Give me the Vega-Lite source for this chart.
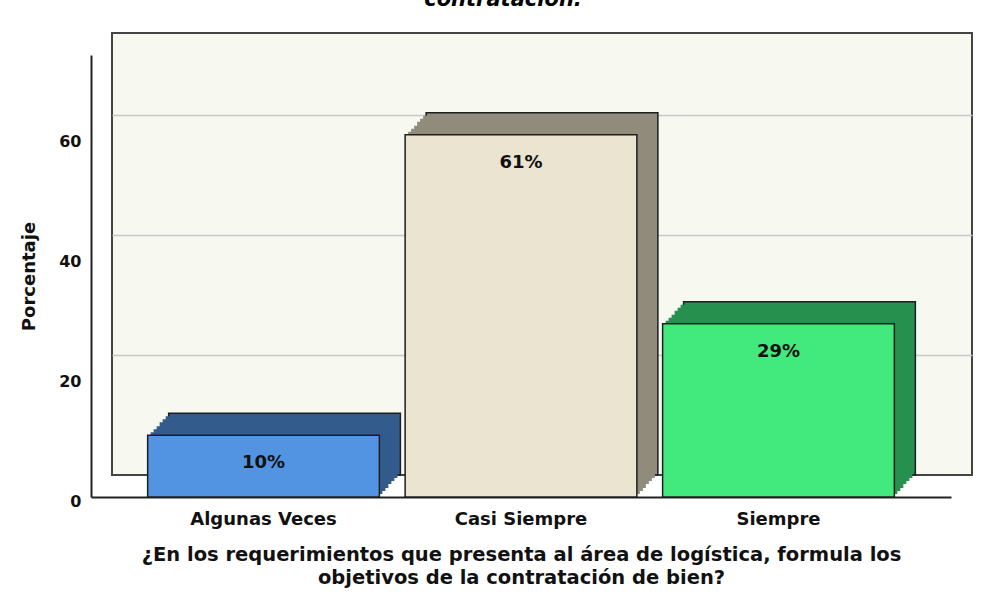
{
  "$schema": "https://vega.github.io/schema/vega-lite/v6.json",
  "width": 860,
  "height": 442,
  "autosize": "none",
  "padding": {"left": 112, "top": 33, "right": 13, "bottom": 122},
  "background": "white",
  "title": {
    "text": "contratación.",
    "font": "DejaVu Sans",
    "fontSize": 21,
    "fontWeight": "bold",
    "fontStyle": "italic",
    "color": "black",
    "baseline": "alphabetic",
    "anchor": "middle",
    "offset": 6,
    "dx": -39
  },
  "config": {
    "view": {"fill": "#f7f9f1", "stroke": "#444444", "strokeWidth": 2},
    "font": "DejaVu Sans"
  },
  "data": {
    "values": [
      {"Respuesta": "Algunas Veces", "Porcentaje": 10.3, "Etiqueta": "10%"},
      {"Respuesta": "Casi Siempre", "Porcentaje": 60.4, "Etiqueta": "61%"},
      {"Respuesta": "Siempre", "Porcentaje": 28.9, "Etiqueta": "29%"}
    ]
  },
  "encoding": {
    "x": {
      "field": "Respuesta",
      "type": "nominal",
      "sort": null,
      "scale": {"paddingInner": 0.1, "paddingOuter": 0.22},
      "axis": {
        "orient": "bottom",
        "offset": 22,
        "position": -21,
        "domain": true,
        "domainColor": "#222222",
        "domainWidth": 2,
        "ticks": false,
        "tickSize": 0,
        "grid": false,
        "labelAngle": 0,
        "labelPadding": 13,
        "labelFont": "DejaVu Sans",
        "labelFontSize": 18,
        "labelFontWeight": "bold",
        "labelColor": "#111111",
        "title": ["¿En los requerimientos que presenta al área de logística, formula los", "objetivos de la contratación de bien?"],
        "titleFont": "DejaVu Sans",
        "titleFontSize": 19.5,
        "titleFontWeight": "bold",
        "titleColor": "#111111",
        "titleLineHeight": 23,
        "titlePadding": 17
      }
    },
    "y": {
      "field": "Porcentaje",
      "type": "quantitative",
      "scale": {"domain": [0, 73.7], "nice": false, "zero": true}
    },
    "color": {
      "field": "Respuesta",
      "type": "nominal",
      "sort": null,
      "scale": {"domain": ["Algunas Veces", "Casi Siempre", "Siempre"], "range": ["#335c8d", "#918c7c", "#26904f"]},
      "legend": null
    }
  },
  "layer": [
    {
      "mark": {"type": "bar", "stroke": "#1e1e1e", "strokeWidth": 1.5},
      "encoding": {
        "y": {
          "field": "Porcentaje",
          "type": "quantitative",
          "axis": {
            "orient": "left",
            "grid": true,
            "gridColor": "#c8c8c8",
            "gridWidth": 1.5,
            "labels": false,
            "domain": false,
            "ticks": false,
            "values": [20, 40, 60],
            "title": null
          }
        }
      }
    },
    {"mark": {"type": "bar", "xOffset": -3, "yOffset": 3}, "encoding": {"y": {"field": "Porcentaje", "type": "quantitative", "axis": null}}},
    {"mark": {"type": "bar", "xOffset": -6, "yOffset": 6}, "encoding": {"y": {"field": "Porcentaje", "type": "quantitative", "axis": null}}},
    {"mark": {"type": "bar", "xOffset": -9, "yOffset": 9}, "encoding": {"y": {"field": "Porcentaje", "type": "quantitative", "axis": null}}},
    {"mark": {"type": "bar", "xOffset": -12, "yOffset": 13}, "encoding": {"y": {"field": "Porcentaje", "type": "quantitative", "axis": null}}},
    {"mark": {"type": "bar", "xOffset": -15, "yOffset": 16}, "encoding": {"y": {"field": "Porcentaje", "type": "quantitative", "axis": null}}},
    {"mark": {"type": "bar", "xOffset": -18, "yOffset": 19}, "encoding": {"y": {"field": "Porcentaje", "type": "quantitative", "axis": null}}},
    {
      "mark": {"type": "bar", "stroke": "#1e1e1e", "strokeWidth": 1.5, "xOffset": -21, "yOffset": 22},
      "encoding": {
        "y": {
          "field": "Porcentaje",
          "type": "quantitative",
          "axis": {
            "orient": "left",
            "offset": 21,
            "position": 22,
            "grid": false,
            "domain": true,
            "domainColor": "#222222",
            "domainWidth": 2,
            "ticks": false,
            "tickSize": 0,
            "values": [0, 20, 40, 60],
            "labelPadding": 10,
            "labelOffset": 4,
            "labelFont": "DejaVu Sans",
            "labelFontSize": 16,
            "labelFontWeight": "bold",
            "labelColor": "#111111",
            "title": "Porcentaje",
            "titleFont": "DejaVu Sans",
            "titleFontSize": 18,
            "titleFontWeight": "bold",
            "titleColor": "#111111",
            "titlePadding": 20
          }
        },
        "fill": {
          "field": "Respuesta",
          "type": "nominal",
          "sort": null,
          "scale": {"domain": ["Algunas Veces", "Casi Siempre", "Siempre"], "range": ["#5294e2", "#ebe4d0", "#42ea7e"]},
          "legend": null
        }
      }
    },
    {
      "mark": {"type": "text", "xOffset": -21, "yOffset": 50, "baseline": "middle", "align": "center", "font": "DejaVu Sans", "fontSize": 18, "fontWeight": "bold", "fill": "#111111"},
      "encoding": {
        "y": {"field": "Porcentaje", "type": "quantitative", "axis": null},
        "text": {"field": "Etiqueta", "type": "nominal"},
        "color": {"value": "#111111"}
      }
    }
  ],
  "resolve": {"scale": {"fill": "independent"}, "axis": {"y": "independent"}}
}
